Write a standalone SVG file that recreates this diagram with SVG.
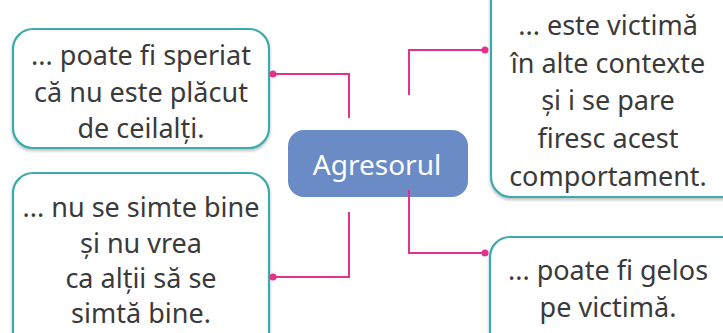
<svg xmlns="http://www.w3.org/2000/svg" width="723" height="333" viewBox="0 0 723 333">
<defs>
<style>
.box{fill:#fff;stroke:#3aabab;stroke-width:2.2}
.t{font-family:"Noto Sans","Open Sans",sans-serif;font-size:27px;fill:#3a3a3a;text-anchor:middle}
.c{fill:none;stroke:#e5318c;stroke-width:2}
.d{fill:#e5318c}
</style>
<filter id="sh" x="-10%" y="-10%" width="120%" height="130%"><feDropShadow dx="0" dy="2" stdDeviation="1.5" flood-color="#000" flood-opacity="0.25"/></filter>
</defs>
<rect width="723" height="333" fill="#fff"/>
<g id="n1">
<rect class="box" x="13" y="29" width="256" height="119" rx="20" filter="url(#sh)"/>
<text class="t" x="141" y="65">... poate fi speriat</text>
<text class="t" x="141" y="102">că nu este plăcut</text>
<text class="t" x="141" y="138">de ceilalți.</text>
</g>
<g id="n2">
<rect class="box" x="491" y="-30" width="260" height="227" rx="20" filter="url(#sh)"/>
<text class="t" x="608" y="35">... este victimă</text>
<text class="t" x="608" y="73">în alte contexte</text>
<text class="t" x="608" y="110">și i se pare</text>
<text class="t" x="608" y="148">firesc acest</text>
<text class="t" x="608" y="186">comportament.</text>
</g>
<g id="n3">
<rect class="box" x="13" y="173" width="256" height="190" rx="20" filter="url(#sh)"/>
<text class="t" x="141" y="217">... nu se simte bine</text>
<text class="t" x="141" y="253">și nu vrea</text>
<text class="t" x="141" y="288">ca alții să se</text>
<text class="t" x="141" y="323">simtă bine.</text>
</g>
<g id="n4">
<rect class="box" x="490" y="237" width="260" height="130" rx="20" filter="url(#sh)"/>
<text class="t" x="608" y="280">... poate fi gelos</text>
<text class="t" x="608" y="317">pe victimă.</text>
</g>
<g id="center">
<rect x="288" y="130" width="180" height="67" rx="16" fill="#6a8bc6"/>
<text x="377" y="175" font-family="Noto Sans,Open Sans,sans-serif" font-size="28" fill="#fff" text-anchor="middle">Agresorul</text>
</g>
<g id="connectors">
<path class="c" d="M273 74 H349 V118"/>
<circle class="d" cx="273" cy="74" r="3.5"/>
<path class="c" d="M485 50 H409 V95"/>
<circle class="d" cx="485" cy="50" r="3.5"/>
<path class="c" d="M273 277 H349 V212"/>
<circle class="d" cx="273" cy="277" r="3.5"/>
<path class="c" d="M485 253 H409 V190"/>
<circle class="d" cx="485" cy="253" r="3.5"/>
</g>
</svg>
